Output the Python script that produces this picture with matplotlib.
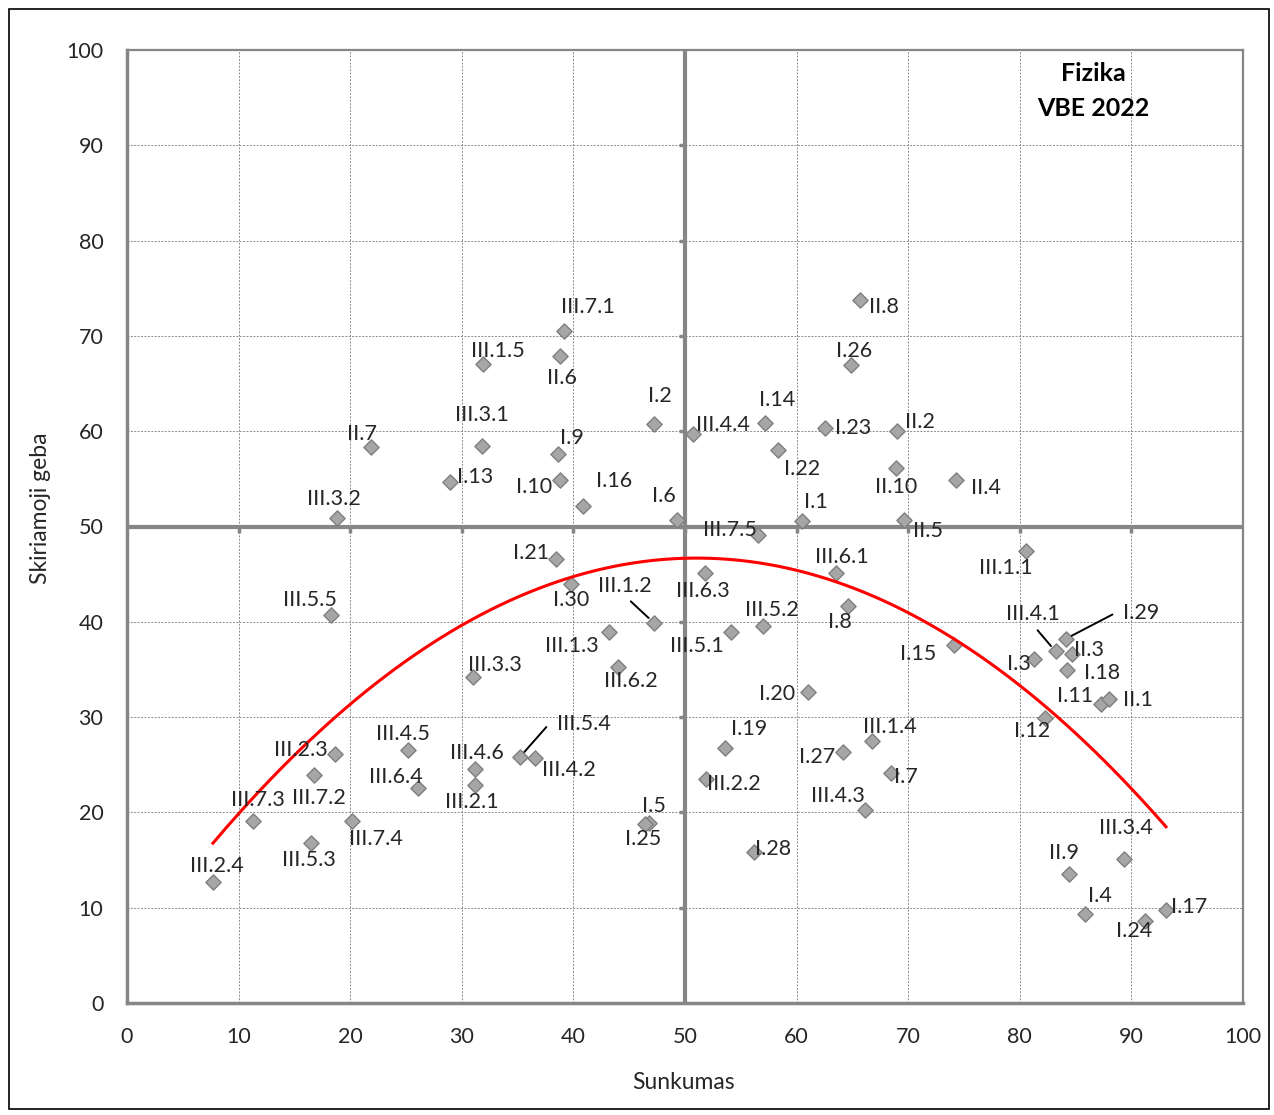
import numpy as np
import matplotlib
matplotlib.use('Agg')
import matplotlib.pyplot as plt
from matplotlib.patches import Rectangle

plt.rcParams['font.family'] = ['Lato', 'DejaVu Sans']

# Task labels, difficulty (Sunkumas) and discrimination (Skiriamoji geba)
labels = ['III.2.4', 'III.7.3', 'III.2.3', 'III.7.2', 'III.5.3', 'III.7.4', 'III.5.5',
          'III.3.2', 'II.7', 'III.4.5', 'III.6.4', 'III.3.3', 'III.4.6', 'III.2.1',
          'III.5.4', 'III.4.2', 'I.13', 'III.3.1', 'III.1.5', 'III.7.1', 'II.6', 'I.9',
          'I.10', 'I.16', 'I.2', 'I.6', 'I.21', 'I.30', 'III.1.2', 'III.1.3', 'III.6.2',
          'I.5', 'I.25', 'III.4.4', 'I.14', 'I.22', 'I.23', 'II.2', 'II.10', 'II.4',
          'I.1', 'II.5', 'II.8', 'I.26', 'III.7.5', 'III.6.3', 'III.6.1', 'I.8',
          'III.5.2', 'III.5.1', 'I.15', 'I.20', 'I.19', 'III.2.2', 'I.27', 'III.1.4',
          'I.7', 'III.4.3', 'I.28', 'III.1.1', 'I.3', 'III.4.1', 'I.29', 'II.3', 'I.18',
          'I.11', 'II.1', 'I.12', 'II.9', 'III.3.4', 'I.4', 'I.24', 'I.17']
sunkumas = [7.7, 11.3, 18.6, 16.8, 16.5, 20.2, 18.3,
            18.8, 21.9, 25.2, 26.1, 31.0, 31.2, 31.2,
            35.2, 36.6, 28.9, 31.8, 31.9, 39.2, 38.8, 38.6,
            38.8, 40.9, 47.2, 49.3, 38.4, 39.8, 47.2, 43.2, 44.0,
            46.8, 46.4, 50.7, 57.2, 58.3, 62.5, 69.0, 68.9, 74.3,
            60.5, 69.6, 65.7, 64.9, 56.5, 51.8, 63.5, 64.6,
            57.0, 54.1, 74.1, 61.0, 53.6, 51.9, 64.2, 66.8,
            68.5, 66.1, 56.2, 80.6, 81.3, 83.2, 84.1, 84.7, 84.2,
            87.3, 88.0, 82.3, 84.4, 89.3, 85.8, 91.2, 93.1]
skiriamoji = [12.7, 19.1, 26.1, 23.9, 16.8, 19.1, 40.7,
              50.9, 58.3, 26.5, 22.6, 34.2, 24.6, 22.9,
              25.8, 25.7, 54.7, 58.4, 67.1, 70.5, 67.9, 57.6,
              54.9, 52.2, 60.8, 50.7, 46.6, 44.0, 39.9, 38.9, 35.3,
              18.9, 18.8, 59.7, 60.9, 58.0, 60.3, 60.0, 56.1, 54.9,
              50.6, 50.7, 73.8, 66.9, 49.1, 45.1, 45.1, 41.7,
              39.6, 38.9, 37.6, 32.6, 26.8, 23.5, 26.3, 27.5,
              24.1, 20.3, 15.8, 47.4, 36.1, 36.9, 38.2, 36.6, 34.9,
              31.4, 31.9, 29.9, 13.5, 15.1, 9.3, 8.6, 9.8]

ticks = list(range(0, 101, 10))

# label offsets from their point, in pixels (x right, y up)
offsets = {
    'III.2.4': (4, 16), 'III.7.3': (5, 21), 'III.2.3': (-34, 4), 'III.7.2': (4, -23),
    'III.5.3': (-2, -17), 'III.7.4': (24, -18), 'III.5.5': (-21, 15), 'III.3.2': (-3, 19),
    'II.7': (-9, 13), 'III.4.5': (-5, 16), 'III.6.4': (-22, 11), 'III.3.3': (22, 12),
    'III.4.6': (2, 16), 'III.2.1': (-3, -17), 'III.4.2': (33, -12), 'I.13': (26, 5),
    'III.3.1': (0, 31), 'III.1.5': (15, 13), 'III.7.1': (23, 24), 'II.6': (2, -22),
    'I.9': (14, 16), 'I.10': (-26, -7), 'I.16': (31, 25), 'I.2': (6, 28), 'I.6': (-13, 24),
    'I.21': (-24, 6), 'I.30': (0, -16), 'III.1.3': (-37, -14), 'III.6.2': (13, -14),
    'I.5': (5, 17), 'I.25': (-2, -15), 'III.4.4': (30, 9), 'I.14': (12, 23),
    'I.22': (24, -19), 'I.23': (29, 0), 'II.2': (23, 9), 'II.10': (0, -19), 'II.4': (30, -8),
    'I.1': (14, 19), 'II.5': (24, -11), 'II.8': (24, -7), 'I.26': (3, 14),
    'III.7.5': (-28, 5), 'III.6.3': (-2, -18), 'III.6.1': (6, 16), 'I.8': (-8, -16),
    'III.5.2': (9, 16), 'III.5.1': (-34, -14), 'I.15': (-36, -9), 'I.20': (-31, -2),
    'I.19': (24, 19), 'III.2.2': (28, -5), 'I.27': (-26, -5), 'III.1.4': (17, 14),
    'I.7': (14, -4), 'III.4.3': (-27, 14), 'I.28': (19, 3), 'III.1.1': (-21, -17),
    'I.3': (-15, -5), 'II.3': (17, 4), 'I.18': (35, -3), 'I.11': (-26, 8), 'II.1': (29, -1),
    'I.12': (-13, -13), 'II.9': (-5, 21), 'III.3.4': (2, 31), 'I.4': (15, 18),
    'I.24': (-11, -10), 'I.17': (23, 3),
}
# labels drawn with a leader line: offset, style
leaders = {
    'III.1.2': ((-29, 37), 'straight'),
    'III.4.1': ((-23, 37), 'straight'),
    'III.5.4': ((64, 33), 'elbow'),
    'I.29': ((76, 26), 'elbow'),
}

fig = plt.figure(figsize=(12.74, 11.15), dpi=100)
ax = fig.add_axes([127 / 1274, 112 / 1115, 1116 / 1274, 953 / 1115])

grey = '#868686'
txt = '#262626'
ax.set_xlim(0, 100)
ax.set_ylim(0, 100)
ax.set_xticks(ticks)
ax.set_yticks(ticks)
ax.grid(True, color='#8c8c8c', linestyle=(0, (2, 1.5)), linewidth=0.7)
ax.set_axisbelow(True)
ax.tick_params(length=0, labelsize=15.5, pad=17, colors=txt)
for side in ['left', 'bottom']:
    ax.spines[side].set_color(grey)
    ax.spines[side].set_linewidth(2.5)
for side in ['top', 'right']:
    ax.spines[side].set_color(grey)
    ax.spines[side].set_linewidth(1.6)

# quadrant lines at 50
ax.axvline(50, color=grey, linewidth=3, zorder=1)
ax.axhline(50, color=grey, linewidth=3, zorder=1)
inner = [t for t in ticks if 0 < t < 100]
ax.plot([50] * len(inner), inner, linestyle='none', marker=0, markersize=4,
        markeredgewidth=2.5, color=grey, zorder=1)
ax.plot(inner, [50] * len(inner), linestyle='none', marker=3, markersize=4,
        markeredgewidth=2.5, color=grey, zorder=1)

# trend (2nd order polynomial, as in spreadsheet)
coef = np.polyfit(sunkumas, skiriamoji, 2)
xs = np.linspace(min(sunkumas), max(sunkumas), 200)
ax.plot(xs, np.polyval(coef, xs), color='#ff0000', linewidth=2.2, zorder=4)

ax.scatter(sunkumas, skiriamoji, marker='D', s=60, color='#a6a6a6',
           edgecolor='#7f7f7f', linewidth=1.0, zorder=3)

fs = 15.5
for lab, x, y in zip(labels, sunkumas, skiriamoji):
    if lab in leaders:
        (dx, dy), kind = leaders[lab]
        if kind == 'straight':
            props = dict(arrowstyle='-', color='black', linewidth=1.4,
                         relpos=(0.5, 0.0), shrinkA=3, shrinkB=5)
        else:
            props = dict(arrowstyle='-', color='black', linewidth=1.4,
                         relpos=(0.0, 0.5), shrinkA=6, shrinkB=5,
                         connectionstyle='arc,angleA=180,armA=8,angleB=0,armB=0,rad=0')
        ax.annotate(lab, (x, y), xytext=(dx, dy), textcoords='offset pixels',
                    ha='center', va='center', fontsize=fs, color=txt,
                    arrowprops=props, zorder=5)
    else:
        dx, dy = offsets[lab]
        ax.annotate(lab, (x, y), xytext=(dx, dy), textcoords='offset pixels',
                    ha='center', va='center', fontsize=fs, color=txt, zorder=5)

ax.text(86.6, 95.7, 'Fizika\nVBE 2022', ha='center', va='center', fontsize=18,
        fontweight='bold', linespacing=1.6, color='black')

ax.set_xlabel('Sunkumas', fontsize=16.5, color=txt)
ax.set_ylabel('Skiriamoji geba', fontsize=16.5, color=txt)
ax.xaxis.set_label_coords(0.499, -0.072)
ax.yaxis.set_label_coords(-0.068, 0.519)

fig.patches.append(Rectangle((9 / 1274, 6 / 1115), 1260 / 1274, 1100 / 1115,
                             transform=fig.transFigure, fill=False,
                             edgecolor='black', linewidth=1.2))

fig.savefig('out.png', dpi=100)
